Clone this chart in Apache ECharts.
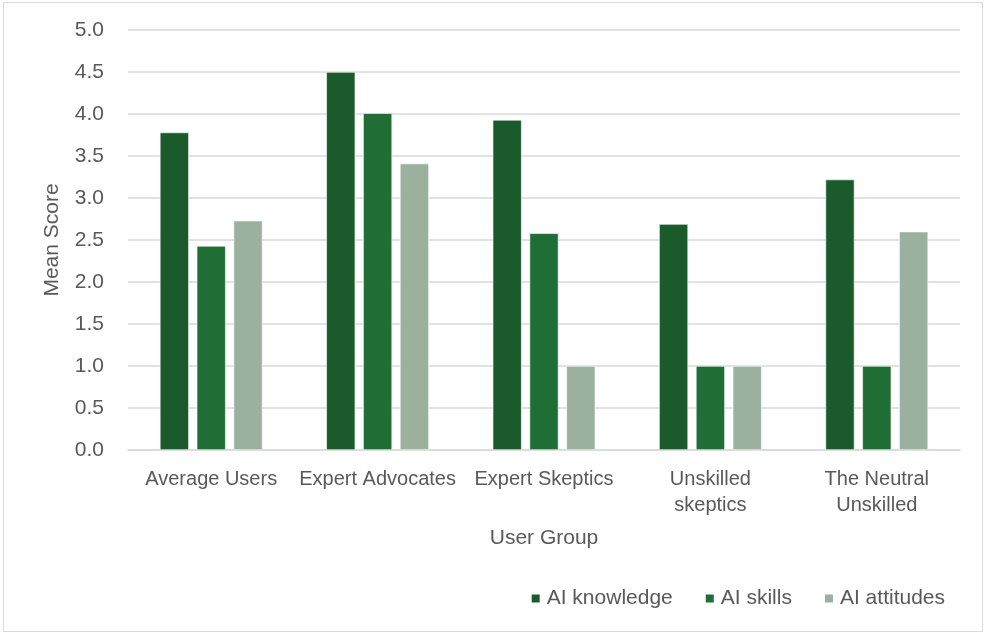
<!DOCTYPE html>
<html><head><meta charset="utf-8">
<script src="https://cdn.jsdelivr.net/npm/echarts@6/dist/echarts.min.js"></script>
<style>html,body{margin:0;padding:0;background:#fff}#c{width:986px;height:634px}</style>
</head><body><div id="c"></div>
<script>
const categories = ['Average Users', 'Expert Advocates', 'Expert Skeptics', 'Unskilled\nskeptics', 'The Neutral\nUnskilled'];
const aiKnowledge = [3.78, 4.50, 3.93, 2.69, 3.22];
const aiSkills = [2.43, 4.01, 2.58, 1.00, 1.00];
const aiAttitudes = [2.73, 3.41, 1.00, 1.00, 2.60];
const yTicks = [0, 0.5, 1, 1.5, 2, 2.5, 3, 3.5, 4, 4.5, 5];

const txt = '#595959';
const font = 'Liberation Sans, Arial, sans-serif';
const chart = echarts.init(document.getElementById('c'), null, {renderer: 'canvas'});
const mk = (name, data, color) => ({
  name, type: 'bar', data, barWidth: 29, barGap: '27%',
  itemStyle: {color, borderColor: '#ffffff', borderWidth: 0.6}
});
chart.setOption({
  animation: false,
  textStyle: {fontFamily: font},
  graphic: [{type: 'rect', shape: {x: 3.5, y: 2.5, width: 979, height: 629},
    style: {fill: 'none', stroke: '#d9d9d9', lineWidth: 1}, silent: true}],
  grid: {left: 128, right: 26, top: 30, bottom: 184},
  legend: {
    bottom: 20, right: 36, itemWidth: 10, itemHeight: 10, itemGap: 31,
    icon: 'rect',
    textStyle: {color: txt, fontSize: 21, fontFamily: font, padding: [0, 0, 0, 1]},
    data: ['AI knowledge', 'AI skills', 'AI attitudes']
  },
  xAxis: {
    type: 'category', data: categories,
    name: 'User Group', nameLocation: 'middle', nameGap: 78,
    nameTextStyle: {color: txt, fontSize: 21, fontFamily: font},
    axisLine: {lineStyle: {color: '#d9d9d9', width: 1.5}},
    axisTick: {show: false},
    axisLabel: {color: txt, fontSize: 20, fontFamily: font, margin: 16, lineHeight: 26, interval: 0}
  },
  yAxis: {
    type: 'value', min: 0, max: 5, interval: 0.5,
    name: 'Mean Score', nameLocation: 'middle', nameGap: 65, nameRotate: 90,
    nameTextStyle: {color: txt, fontSize: 21, fontFamily: font},
    axisLine: {show: false}, axisTick: {show: false},
    splitLine: {lineStyle: {color: '#d9d9d9', width: 1.5}},
    axisLabel: {color: txt, fontSize: 21, fontFamily: font, margin: 24,
      formatter: v => yTicks.includes(v) ? v.toFixed(1) : ''}
  },
  series: [
    mk('AI knowledge', aiKnowledge, '#1a5a2b'),
    mk('AI skills', aiSkills, '#1f6e35'),
    mk('AI attitudes', aiAttitudes, '#9bb19e')
  ]
});
</script></body></html>
